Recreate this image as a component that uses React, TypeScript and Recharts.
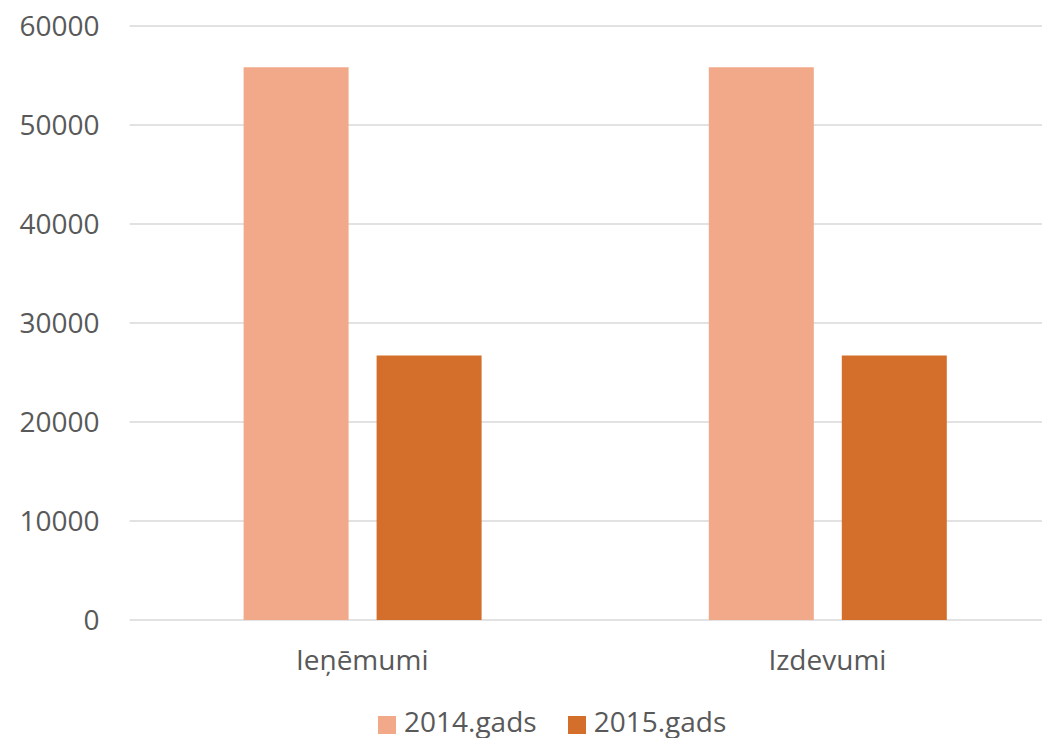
import { BarChart, Bar, XAxis, YAxis, CartesianGrid, Legend } from "recharts";

const categories = ["Ieņēmumi", "Izdevumi"];
const values2014 = [55830, 55830];
const values2015 = [26720, 26720];
const yTicks = [0, 10000, 20000, 30000, 40000, 50000, 60000];

const SERIES = [
  { key: "y2014", name: "2014.gads", color: "#F1A98A" },
  { key: "y2015", name: "2015.gads", color: "#D46F2B" },
];

const data = categories.map((name, i) => ({
  name,
  y2014: values2014[i],
  y2015: values2015[i],
}));

const FONT = "'Open Sans', 'Noto Sans', sans-serif";
const TEXT = "#595959";

function LegendContent() {
  return (
    <div style={{ display: "flex", alignItems: "center", fontFamily: FONT, fontSize: 28, color: TEXT, height: 28 }}>
      {SERIES.map((s, i) => (
        <div key={s.key} style={{ display: "flex", alignItems: "center", marginLeft: i ? 31 : 0 }}>
          <span style={{ display: "inline-block", width: 18, height: 18, background: s.color, marginRight: 8, marginTop: 8 }} />
          <span style={{ lineHeight: "28px" }}>{s.name}</span>
        </div>
      ))}
    </div>
  );
}

export default function App() {
  return (
    <div
      style={{
        position: "fixed",
        left: 0,
        top: 0,
        width: 1042,
        height: 738,
        overflow: "hidden",
        background: "#fff",
      }}
    >
      <style>{"html, body { margin: 0; overflow: hidden; }"}</style>
      <BarChart
        width={1060}
        height={738}
        data={data}
        margin={{ top: 26, right: 0, bottom: 58, left: 0 }}
        barSize={105}
        barGap={28}
      >
        <CartesianGrid vertical={false} stroke="#D9D9D9" strokeWidth={1.5} x={129.6} width={960} />
        <XAxis
          dataKey="name"
          height={60}
          axisLine={false}
          tickLine={false}
          tickSize={0}
          tickMargin={30}
          tick={{ fill: TEXT, fontSize: 28, fontFamily: FONT }}
        />
        <YAxis
          width={129.6}
          domain={[0, 60000]}
          ticks={yTicks}
          interval={0}
          axisLine={false}
          tickLine={false}
          tickSize={0}
          tickMargin={30}
          tick={{ fill: TEXT, fontSize: 28, fontFamily: FONT }}
        />
        <Legend
          verticalAlign="middle"
          align="center"
          content={<LegendContent />}
          wrapperStyle={{ top: 707, left: 378, width: "auto" }}
        />
        {SERIES.map((s) => (
          <Bar key={s.key} dataKey={s.key} name={s.name} fill={s.color} isAnimationActive={false} />
        ))}
      </BarChart>
    </div>
  );
}
